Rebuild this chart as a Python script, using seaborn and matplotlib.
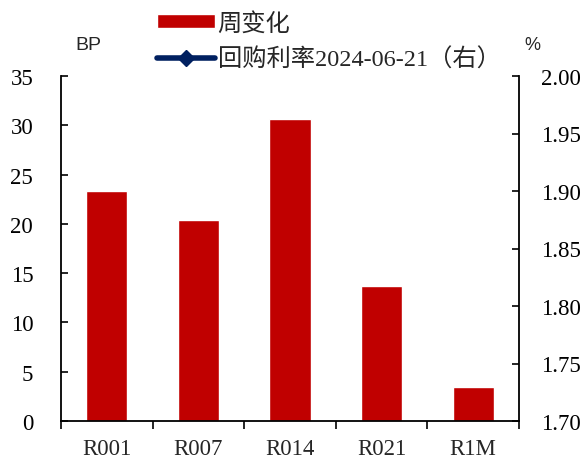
import numpy as np
import pandas as pd
import matplotlib
matplotlib.use("Agg")
import matplotlib.pyplot as plt
import seaborn as sns

# data
terms = ["R001", "R007", "R014", "R021", "R1M"]
weekly_change = [23.3, 20.4, 30.6, 13.7, 3.45]
# line values fall outside the visible 1.70-2.00 range in the reference
repo_rate = [np.nan, np.nan, np.nan, np.nan, np.nan]

df = pd.DataFrame({"term": terms, "change": weekly_change, "rate": repo_rate})

sns.set_style("white")
plt.rcParams["font.family"] = ["Liberation Serif", "Noto Sans CJK SC", "DejaVu Sans"]

fig = plt.figure(figsize=(5.84, 4.64), dpi=100)
ax = fig.add_axes([61 / 584, 42 / 464, 458 / 584, 345 / 464])

sns.barplot(data=df, x="term", y="change", color="#C00000", width=0.45,
            saturation=1, ax=ax, label="周变化")
if ax.get_legend() is not None:
    ax.get_legend().remove()
ax.set_ylim(0, 35)
ax.set_yticks(range(0, 36, 5))
ax.set_xlim(-0.5, 4.5)
ax.set_xlabel("")
ax.set_ylabel("")

ax2 = ax.twinx()
ax2.plot(range(len(terms)), df["rate"], color="#002060", lw=4, marker="D",
         ms=8, label="回购利率2024-06-21（右）")
ax2.set_ylim(1.70, 2.00)
ax2.set_yticks(np.arange(1.70, 2.001, 0.05))
ax2.set_yticklabels([f"{v:.2f}" for v in np.arange(1.70, 2.001, 0.05)])

fs = 16.5
for a in (ax, ax2):
    for s in a.spines.values():
        s.set_visible(False)
    a.tick_params(labelsize=fs, colors="black")

ax.spines["left"].set_visible(True)
ax.spines["bottom"].set_visible(True)
ax2.spines["right"].set_visible(True)
for s in (ax.spines["left"], ax.spines["bottom"], ax2.spines["right"]):
    s.set_color("black")
    s.set_linewidth(1.3)

ax.tick_params(axis="y", direction="in", length=5, width=1.2, left=True, pad=20)
ax2.tick_params(axis="y", direction="in", length=5, width=1.2, right=True, pad=16)
ax.set_xticks([-0.5, 0.5, 1.5, 2.5, 3.5, 4.5], minor=False)
ax.set_xticklabels([])
ax.set_xticks(range(len(terms)), minor=True)
ax.set_xticklabels(terms, minor=True)
ax.tick_params(axis="x", which="major", direction="out", length=6, width=1.2, bottom=True)
ax.tick_params(axis="x", which="minor", length=0, pad=12, labelsize=fs)

fig.text(88 / 584, 1 - 45 / 464, "BP", ha="center", va="center", fontsize=14,
         family=["Liberation Sans", "DejaVu Sans"])
fig.text(532 / 584, 1 - 45 / 464, "%", ha="center", va="center", fontsize=13,
         family=["Liberation Sans", "DejaVu Sans"])

h1, l1 = ax.get_legend_handles_labels()
h2, l2 = ax2.get_legend_handles_labels()
fig.legend(h1 + h2, l1 + l2, loc="upper left", bbox_to_anchor=(135 / 584, 1.02),
           frameon=False, handlelength=2.4, handleheight=0.55, handletextpad=0.1,
           labelspacing=0.55,
           prop={"family": ["Liberation Serif", "Noto Sans CJK SC"], "size": 17.5})

fig.savefig("out.png", dpi=100)
